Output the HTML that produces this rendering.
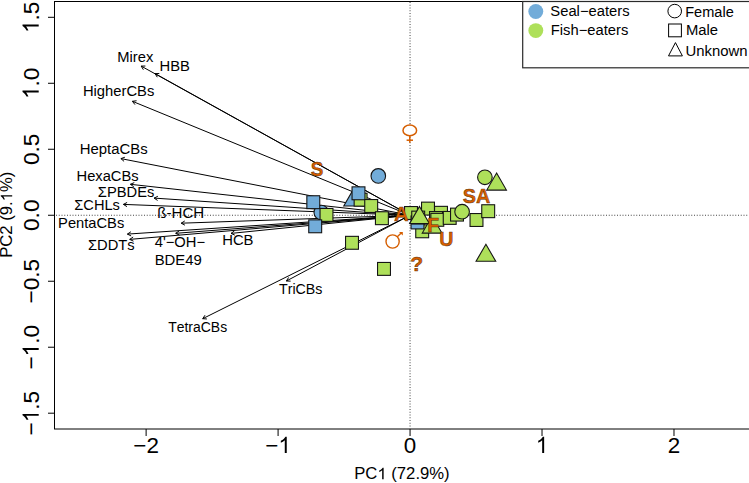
<!DOCTYPE html>
<html><head><meta charset="utf-8"><style>
html,body{margin:0;padding:0;background:#fff;width:749px;height:483px;overflow:hidden}
svg{display:block;font-family:"Liberation Sans", sans-serif;font-kerning:none}
</style></head><body>
<svg width="749" height="483" viewBox="0 0 749 483" font-family='"Liberation Sans", sans-serif'>
<rect x="54.5" y="1.5" width="720" height="427.5" fill="none" stroke="#000" stroke-width="1"/>
<line x1="56" y1="215.25" x2="749" y2="215.25" stroke="#444" stroke-width="1" stroke-dasharray="1 1.75"/>
<line x1="410.05" y1="2" x2="410.05" y2="428.5" stroke="#444" stroke-width="1" stroke-dasharray="1 1.75"/>
<line x1="146.11" y1="429" x2="146.11" y2="436" stroke="#000" stroke-width="1"/>
<line x1="278.08" y1="429" x2="278.08" y2="436" stroke="#000" stroke-width="1"/>
<line x1="410.05" y1="429" x2="410.05" y2="436" stroke="#000" stroke-width="1"/>
<line x1="542.02" y1="429" x2="542.02" y2="436" stroke="#000" stroke-width="1"/>
<line x1="673.99" y1="429" x2="673.99" y2="436" stroke="#000" stroke-width="1"/>
<line x1="48" y1="413.20" x2="54.5" y2="413.20" stroke="#000" stroke-width="1"/>
<line x1="48" y1="347.22" x2="54.5" y2="347.22" stroke="#000" stroke-width="1"/>
<line x1="48" y1="281.24" x2="54.5" y2="281.24" stroke="#000" stroke-width="1"/>
<line x1="48" y1="215.25" x2="54.5" y2="215.25" stroke="#000" stroke-width="1"/>
<line x1="48" y1="149.26" x2="54.5" y2="149.26" stroke="#000" stroke-width="1"/>
<line x1="48" y1="83.28" x2="54.5" y2="83.28" stroke="#000" stroke-width="1"/>
<line x1="48" y1="17.30" x2="54.5" y2="17.30" stroke="#000" stroke-width="1"/>
<g transform="translate(133.340,452.9)"><text xml:space="preserve" x="0.000" y="0" font-size="22.400" fill="#000">−2</text></g>
<g transform="translate(265.310,452.9)"><text xml:space="preserve" x="0.000" y="0" font-size="22.400" fill="#000">−</text><path transform="translate(13.081,0) scale(0.02240,-0.02240)" d="M373 0H285V560Q253 530 201 500Q149 470 108 455V540Q181 574 236 623Q291 672 314 716H373Z" fill="#000"/></g>
<g transform="translate(403.821,452.9)"><text xml:space="preserve" x="0.000" y="0" font-size="22.400" fill="#000">0</text></g>
<g transform="translate(535.791,452.9)"><path transform="translate(0.000,0) scale(0.02240,-0.02240)" d="M373 0H285V560Q253 530 201 500Q149 470 108 455V540Q181 574 236 623Q291 672 314 716H373Z" fill="#000"/></g>
<g transform="translate(667.761,452.9)"><text xml:space="preserve" x="0.000" y="0" font-size="22.400" fill="#000">2</text></g>
<g transform="translate(38.7,435.513) rotate(-90)"><text xml:space="preserve" x="0.000" y="0" font-size="22.600" fill="#000">−</text><path transform="translate(13.198,0) scale(0.02260,-0.02260)" d="M373 0H285V560Q253 530 201 500Q149 470 108 455V540Q181 574 236 623Q291 672 314 716H373Z" fill="#000"/><text xml:space="preserve" x="25.767" y="0" font-size="22.600" fill="#000">.5</text></g>
<g transform="translate(38.7,369.528) rotate(-90)"><text xml:space="preserve" x="0.000" y="0" font-size="22.600" fill="#000">−</text><path transform="translate(13.198,0) scale(0.02260,-0.02260)" d="M373 0H285V560Q253 530 201 500Q149 470 108 455V540Q181 574 236 623Q291 672 314 716H373Z" fill="#000"/><text xml:space="preserve" x="25.767" y="0" font-size="22.600" fill="#000">.0</text></g>
<g transform="translate(38.7,303.543) rotate(-90)"><text xml:space="preserve" x="0.000" y="0" font-size="22.600" fill="#000">−0.5</text></g>
<g transform="translate(38.7,230.959) rotate(-90)"><text xml:space="preserve" x="0.000" y="0" font-size="22.600" fill="#000">0.0</text></g>
<g transform="translate(38.7,164.974) rotate(-90)"><text xml:space="preserve" x="0.000" y="0" font-size="22.600" fill="#000">0.5</text></g>
<g transform="translate(38.7,98.989) rotate(-90)"><path transform="translate(0.000,0) scale(0.02260,-0.02260)" d="M373 0H285V560Q253 530 201 500Q149 470 108 455V540Q181 574 236 623Q291 672 314 716H373Z" fill="#000"/><text xml:space="preserve" x="12.569" y="0" font-size="22.600" fill="#000">.0</text></g>
<g transform="translate(38.7,33.004) rotate(-90)"><path transform="translate(0.000,0) scale(0.02260,-0.02260)" d="M373 0H285V560Q253 530 201 500Q149 470 108 455V540Q181 574 236 623Q291 672 314 716H373Z" fill="#000"/><text xml:space="preserve" x="12.569" y="0" font-size="22.600" fill="#000">.5</text></g>
<g transform="translate(354.231,479.200) scale(1.0427,1)"><text xml:space="preserve" x="0.000" y="0" font-size="16.000" fill="#000">PC</text><path transform="translate(22.227,0) scale(0.01600,-0.01600)" d="M373 0H285V560Q253 530 201 500Q149 470 108 455V540Q181 574 236 623Q291 672 314 716H373Z" fill="#000"/><text xml:space="preserve" x="31.125" y="0" font-size="16.000" fill="#000"> (72.9%)</text></g>
<g transform="translate(12.200,257.765) rotate(-90) scale(1.0399,1)"><text xml:space="preserve" x="0.000" y="0" font-size="16.000" fill="#000">PC2 (9.</text><path transform="translate(54.242,0) scale(0.01600,-0.01600)" d="M373 0H285V560Q253 530 201 500Q149 470 108 455V540Q181 574 236 623Q291 672 314 716H373Z" fill="#000"/><text xml:space="preserve" x="63.141" y="0" font-size="16.000" fill="#000">%)</text></g>
<line x1="410.05" y1="215.25" x2="141.20" y2="66.10" stroke="#000" stroke-width="1"/>
<line x1="141.20" y1="66.10" x2="143.36" y2="69.70" stroke="#000" stroke-width="1"/>
<line x1="141.20" y1="66.10" x2="145.40" y2="66.03" stroke="#000" stroke-width="1"/>
<line x1="410.05" y1="215.25" x2="155.10" y2="73.60" stroke="#000" stroke-width="1"/>
<line x1="155.10" y1="73.60" x2="157.26" y2="77.20" stroke="#000" stroke-width="1"/>
<line x1="155.10" y1="73.60" x2="159.30" y2="73.53" stroke="#000" stroke-width="1"/>
<line x1="410.05" y1="215.25" x2="132.40" y2="101.30" stroke="#000" stroke-width="1"/>
<line x1="132.40" y1="101.30" x2="134.97" y2="104.62" stroke="#000" stroke-width="1"/>
<line x1="132.40" y1="101.30" x2="136.56" y2="100.74" stroke="#000" stroke-width="1"/>
<line x1="410.05" y1="215.25" x2="120.90" y2="158.60" stroke="#000" stroke-width="1"/>
<line x1="120.90" y1="158.60" x2="124.07" y2="161.36" stroke="#000" stroke-width="1"/>
<line x1="120.90" y1="158.60" x2="124.87" y2="157.24" stroke="#000" stroke-width="1"/>
<line x1="410.05" y1="215.25" x2="130.40" y2="184.30" stroke="#000" stroke-width="1"/>
<line x1="130.40" y1="184.30" x2="133.78" y2="186.79" stroke="#000" stroke-width="1"/>
<line x1="130.40" y1="184.30" x2="134.25" y2="182.61" stroke="#000" stroke-width="1"/>
<line x1="410.05" y1="215.25" x2="154.10" y2="198.10" stroke="#000" stroke-width="1"/>
<line x1="154.10" y1="198.10" x2="157.59" y2="200.44" stroke="#000" stroke-width="1"/>
<line x1="154.10" y1="198.10" x2="157.87" y2="196.25" stroke="#000" stroke-width="1"/>
<line x1="410.05" y1="215.25" x2="123.40" y2="204.40" stroke="#000" stroke-width="1"/>
<line x1="123.40" y1="204.40" x2="126.96" y2="206.64" stroke="#000" stroke-width="1"/>
<line x1="123.40" y1="204.40" x2="127.11" y2="202.44" stroke="#000" stroke-width="1"/>
<line x1="410.05" y1="215.25" x2="181.20" y2="223.20" stroke="#000" stroke-width="1"/>
<line x1="181.20" y1="223.20" x2="184.91" y2="225.17" stroke="#000" stroke-width="1"/>
<line x1="181.20" y1="223.20" x2="184.76" y2="220.97" stroke="#000" stroke-width="1"/>
<line x1="410.05" y1="215.25" x2="127.40" y2="234.10" stroke="#000" stroke-width="1"/>
<line x1="127.40" y1="234.10" x2="131.17" y2="235.95" stroke="#000" stroke-width="1"/>
<line x1="127.40" y1="234.10" x2="130.89" y2="231.76" stroke="#000" stroke-width="1"/>
<line x1="410.05" y1="215.25" x2="129.70" y2="239.40" stroke="#000" stroke-width="1"/>
<line x1="129.70" y1="239.40" x2="133.50" y2="241.18" stroke="#000" stroke-width="1"/>
<line x1="129.70" y1="239.40" x2="133.14" y2="237.00" stroke="#000" stroke-width="1"/>
<line x1="410.05" y1="215.25" x2="175.70" y2="233.30" stroke="#000" stroke-width="1"/>
<line x1="175.70" y1="233.30" x2="179.49" y2="235.11" stroke="#000" stroke-width="1"/>
<line x1="175.70" y1="233.30" x2="179.17" y2="230.93" stroke="#000" stroke-width="1"/>
<line x1="410.05" y1="215.25" x2="231.00" y2="233.40" stroke="#000" stroke-width="1"/>
<line x1="231.00" y1="233.40" x2="234.83" y2="235.12" stroke="#000" stroke-width="1"/>
<line x1="231.00" y1="233.40" x2="234.41" y2="230.94" stroke="#000" stroke-width="1"/>
<line x1="410.05" y1="215.25" x2="286.40" y2="281.00" stroke="#000" stroke-width="1"/>
<line x1="286.40" y1="281.00" x2="290.60" y2="281.15" stroke="#000" stroke-width="1"/>
<line x1="286.40" y1="281.00" x2="288.63" y2="277.44" stroke="#000" stroke-width="1"/>
<line x1="410.05" y1="215.25" x2="202.70" y2="318.70" stroke="#000" stroke-width="1"/>
<line x1="202.70" y1="318.70" x2="206.89" y2="318.96" stroke="#000" stroke-width="1"/>
<line x1="202.70" y1="318.70" x2="205.02" y2="315.20" stroke="#000" stroke-width="1"/>
<g transform="translate(117.290,61.700) scale(1.0177,1)"><text xml:space="preserve" x="0.000" y="0" font-size="14.500" fill="#000">Mirex</text></g>
<g transform="translate(159.587,70.900) scale(1.0194,1)"><text xml:space="preserve" x="0.000" y="0" font-size="14.500" fill="#000">HBB</text></g>
<g transform="translate(82.888,95.700) scale(1.0191,1)"><text xml:space="preserve" x="0.000" y="0" font-size="14.500" fill="#000">HigherCBs</text></g>
<g transform="translate(79.675,154.400) scale(1.0299,1)"><text xml:space="preserve" x="0.000" y="0" font-size="14.500" fill="#000">HeptaCBs</text></g>
<g transform="translate(76.491,180.700) scale(1.0163,1)"><text xml:space="preserve" x="0.000" y="0" font-size="14.500" fill="#000">HexaCBs</text></g>
<g transform="translate(97.824,196.700) scale(1.0145,1)"><text xml:space="preserve" x="0.000" y="0" font-size="14.500" fill="#000">ΣPBDEs</text></g>
<g transform="translate(74.329,210.100) scale(1.0084,1)"><text xml:space="preserve" x="0.000" y="0" font-size="14.500" fill="#000">ΣCHLs</text></g>
<g transform="translate(157.253,217.700) scale(1.0417,1)"><text xml:space="preserve" x="0.000" y="0" font-size="14.500" fill="#000">ß-HCH</text></g>
<g transform="translate(58.093,227.700) scale(1.0146,1)"><text xml:space="preserve" x="0.000" y="0" font-size="14.500" fill="#000">PentaCBs</text></g>
<g transform="translate(87.924,250.400) scale(1.0151,1)"><text xml:space="preserve" x="0.000" y="0" font-size="14.500" fill="#000">ΣDDTs</text></g>
<g transform="translate(154.762,247.400) scale(1.0170,1)"><text xml:space="preserve" x="0.000" y="0" font-size="14.500" fill="#000">4&#39;−OH−</text></g>
<g transform="translate(154.677,264.900) scale(1.0280,1)"><text xml:space="preserve" x="0.000" y="0" font-size="14.500" fill="#000">BDE49</text></g>
<g transform="translate(222.184,245.400) scale(1.0223,1)"><text xml:space="preserve" x="0.000" y="0" font-size="14.500" fill="#000">HCB</text></g>
<g transform="translate(278.981,293.500) scale(0.9804,1)"><text xml:space="preserve" x="0.000" y="0" font-size="14.500" fill="#000">TriCBs</text></g>
<g transform="translate(168.186,332.400) scale(0.9638,1)"><text xml:space="preserve" x="0.000" y="0" font-size="14.500" fill="#000">TetraCBs</text></g>
<circle cx="321.30" cy="212.50" r="7.30" fill="#72acd9" stroke="#151515" stroke-width="1.1"/>
<polygon points="353.60,188.95 363.43,205.98 343.77,205.98" fill="#72acd9" stroke="#151515" stroke-width="1.1"/>
<rect x="354.15" y="193.25" width="12.90" height="12.90" fill="#aee05a" stroke="#151515" stroke-width="1.1"/>
<rect x="352.05" y="186.85" width="12.90" height="12.90" fill="#72acd9" stroke="#151515" stroke-width="1.1"/>
<rect x="364.75" y="199.55" width="12.90" height="12.90" fill="#aee05a" stroke="#151515" stroke-width="1.1"/>
<rect x="306.85" y="195.75" width="12.90" height="12.90" fill="#72acd9" stroke="#151515" stroke-width="1.1"/>
<rect x="320.05" y="208.45" width="12.90" height="12.90" fill="#aee05a" stroke="#151515" stroke-width="1.1"/>
<rect x="308.75" y="219.85" width="12.90" height="12.90" fill="#72acd9" stroke="#151515" stroke-width="1.1"/>
<circle cx="378.30" cy="175.90" r="7.30" fill="#72acd9" stroke="#151515" stroke-width="1.1"/>
<rect x="375.45" y="211.75" width="12.90" height="12.90" fill="#aee05a" stroke="#151515" stroke-width="1.1"/>
<rect x="345.55" y="236.35" width="12.90" height="12.90" fill="#aee05a" stroke="#151515" stroke-width="1.1"/>
<rect x="377.55" y="262.45" width="12.90" height="12.90" fill="#aee05a" stroke="#151515" stroke-width="1.1"/>
<rect x="404.55" y="206.55" width="12.90" height="12.90" fill="#aee05a" stroke="#151515" stroke-width="1.1"/>
<rect x="421.55" y="202.15" width="12.90" height="12.90" fill="#aee05a" stroke="#151515" stroke-width="1.1"/>
<rect x="434.55" y="206.35" width="12.90" height="12.90" fill="#aee05a" stroke="#151515" stroke-width="1.1"/>
<rect x="415.75" y="224.85" width="12.90" height="12.90" fill="#aee05a" stroke="#151515" stroke-width="1.1"/>
<rect x="411.05" y="216.00" width="12.90" height="12.90" fill="#72acd9" stroke="#151515" stroke-width="1.1"/>
<rect x="411.75" y="211.15" width="12.90" height="12.90" fill="#aee05a" stroke="#151515" stroke-width="1.1"/>
<polygon points="432.10,216.05 441.93,233.08 422.27,233.08" fill="#aee05a" stroke="#151515" stroke-width="1.1"/>
<polygon points="419.50,206.45 429.33,223.48 409.67,223.48" fill="#aee05a" stroke="#151515" stroke-width="1.1"/>
<rect x="429.55" y="211.55" width="12.90" height="12.90" fill="#aee05a" stroke="#151515" stroke-width="1.1"/>
<rect x="430.85" y="213.35" width="12.90" height="12.90" fill="#aee05a" stroke="#151515" stroke-width="1.1"/>
<rect x="443.25" y="211.45" width="12.90" height="12.90" fill="#aee05a" stroke="#151515" stroke-width="1.1"/>
<rect x="450.55" y="208.15" width="12.90" height="12.90" fill="#aee05a" stroke="#151515" stroke-width="1.1"/>
<circle cx="462.10" cy="211.70" r="7.30" fill="#aee05a" stroke="#151515" stroke-width="1.1"/>
<rect x="470.05" y="213.55" width="12.90" height="12.90" fill="#aee05a" stroke="#151515" stroke-width="1.1"/>
<rect x="481.75" y="204.75" width="12.90" height="12.90" fill="#aee05a" stroke="#151515" stroke-width="1.1"/>
<circle cx="484.90" cy="177.30" r="7.30" fill="#aee05a" stroke="#151515" stroke-width="1.1"/>
<polygon points="496.60,173.05 506.43,190.08 486.77,190.08" fill="#aee05a" stroke="#151515" stroke-width="1.1"/>
<polygon points="485.90,244.25 495.73,261.27 476.07,261.27" fill="#aee05a" stroke="#151515" stroke-width="1.1"/>
<g transform="translate(310.657,176.000) scale(0.8981,1)"><text xml:space="preserve" x="0.000" y="0" font-size="21.000" font-weight="bold" fill="#d55e00" stroke="#3a1a00" stroke-width="0.5" stroke-opacity="0.85">S</text></g>
<g transform="translate(462.830,203.300) scale(0.9424,1)"><text xml:space="preserve" x="0.000" y="0" font-size="21.000" font-weight="bold" fill="#d55e00" stroke="#3a1a00" stroke-width="0.5" stroke-opacity="0.85">SA</text></g>
<g transform="translate(393.895,221.100) scale(0.9653,1)"><text xml:space="preserve" x="0.000" y="0" font-size="21.000" font-weight="bold" fill="#d55e00" stroke="#3a1a00" stroke-width="0.5" stroke-opacity="0.85">A</text></g>
<g transform="translate(427.195,232.100) scale(0.9292,1)"><text xml:space="preserve" x="0.000" y="0" font-size="21.000" font-weight="bold" fill="#d55e00" stroke="#3a1a00" stroke-width="0.5" stroke-opacity="0.85">F</text></g>
<g transform="translate(439.321,245.800) scale(0.9348,1)"><text xml:space="preserve" x="0.000" y="0" font-size="21.000" font-weight="bold" fill="#d55e00" stroke="#3a1a00" stroke-width="0.5" stroke-opacity="0.85">U</text></g>
<g transform="translate(410.232,271.100) scale(1.0043,1)"><text xml:space="preserve" x="0.000" y="0" font-size="21.000" font-weight="bold" fill="#d55e00" stroke="#3a1a00" stroke-width="0.5" stroke-opacity="0.85">?</text></g>
<ellipse cx="409.8" cy="130.4" rx="6.8" ry="5.3" fill="#fff" stroke="#d55e00" stroke-width="1.5"/>
<line x1="409.8" y1="135.7" x2="409.8" y2="142.8" stroke="#d55e00" stroke-width="1.5"/>
<line x1="406.6" y1="140.2" x2="413.0" y2="140.2" stroke="#d55e00" stroke-width="1.5"/>
<circle cx="392.6" cy="241.5" r="6.6" fill="none" stroke="#d55e00" stroke-width="1.4"/>
<line x1="397.3" y1="236.8" x2="401.5" y2="232.8" stroke="#d55e00" stroke-width="1.4"/>
<polygon points="399.0,232.0 402.8,232.0 402.8,235.6" fill="#d55e00"/>
<rect x="522.7" y="1.5" width="260" height="66.3" fill="#fff" stroke="#2a2a2a" stroke-width="1.2"/>
<circle cx="535.8" cy="11.5" r="7.45" fill="#72acd9"/>
<circle cx="535.8" cy="30.6" r="7.45" fill="#aee05a"/>
<g transform="translate(550.329,15.500) scale(1.0195,1)"><text xml:space="preserve" x="0.000" y="0" font-size="14.500" fill="#000">Seal−eaters</text></g>
<g transform="translate(550.787,35.100) scale(1.0195,1)"><text xml:space="preserve" x="0.000" y="0" font-size="14.500" fill="#000">Fish−eaters</text></g>
<circle cx="674.7" cy="11.1" r="6.8" fill="none" stroke="#000" stroke-width="1"/>
<rect x="668.6" y="24.0" width="12.8" height="12.8" fill="none" stroke="#000" stroke-width="1"/>
<polygon points="675.45,42.6 682.4,55.9 668.5,55.9" fill="none" stroke="#000" stroke-width="1"/>
<g transform="translate(685.203,16.600) scale(1.0061,1)"><text xml:space="preserve" x="0.000" y="0" font-size="14.500" fill="#000">Female</text></g>
<g transform="translate(685.882,35.300) scale(1.0238,1)"><text xml:space="preserve" x="0.000" y="0" font-size="14.500" fill="#000">Male</text></g>
<g transform="translate(685.550,55.800) scale(1.0276,1)"><text xml:space="preserve" x="0.000" y="0" font-size="14.500" fill="#000">Unknown</text></g>
</svg>
</body></html>
